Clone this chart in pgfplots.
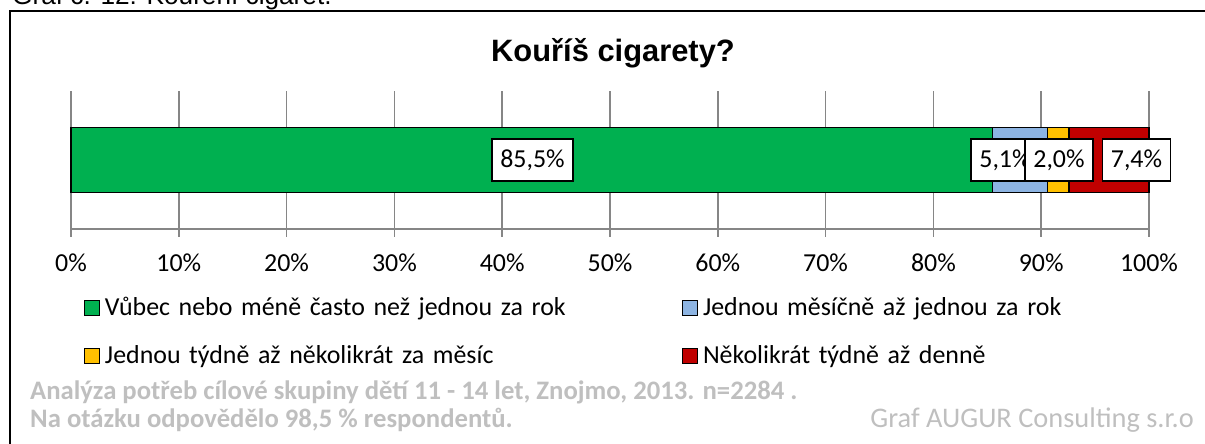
\documentclass[border=0pt]{standalone}
\usepackage{pgfplots}
\pgfplotsset{compat=1.18}
\usepackage{fontspec}
\setmainfont{Carlito}
\newfontfamily\arialfont{Liberation Sans}
\definecolor{cgreen}{HTML}{00B050}
\definecolor{cblue}{HTML}{8DB4E2}
\definecolor{cyellow}{HTML}{FFC000}
\definecolor{cred}{HTML}{C00000}
\definecolor{cgrid}{HTML}{868686}
\definecolor{cfoot}{HTML}{BFBFBF}
\begin{document}
\begin{tikzpicture}[x=1bp,y=1bp]
\useasboundingbox (0,0) rectangle (1205,444);
\node[anchor=base west, inner sep=0pt, font=\arialfont\fontsize{26.3}{30}\selectfont] at (12,439) {Graf č. 12: Kouření cigaret.};
\draw[line width=2.5bp] (10,-10) -- (10,433) -- (1215,433);
\node[anchor=base, inner sep=0pt, font=\arialfont\bfseries\fontsize{31}{36}\selectfont] at (613,382.5) {Kouříš cigarety?};
\begin{axis}[
  at={(71bp,215bp)}, anchor=south west, scale only axis,
  width=1078bp, height=138bp,
  xmin=0, xmax=100, ymin=-1, ymax=1,
  xbar stacked, bar width=65bp,
  clip=false,
  axis x line=bottom, axis y line=none,
  x axis line style={-, draw=cgrid, line width=1.5bp},
  xtick={0,10,...,100},
  xticklabels={0\%,10\%,20\%,30\%,40\%,50\%,60\%,70\%,80\%,90\%,100\%},
  xtick align=outside, major tick length=8bp,
  xtick style={draw=cgrid, line width=1.5bp},
  xmajorgrids, major grid style={draw=cgrid, line width=1.5bp},
  ytick=\empty,
  xticklabel style={font=\fontsize{26}{30}\selectfont, anchor=base, inner sep=0pt, yshift=-35bp},
  legend columns=2,
  legend style={at={(0.01206,-0.4964)}, anchor=north west, draw=none, fill=none,
    inner sep=0pt, outer sep=0pt, row sep=24bp,
    nodes={anchor=base west, inner xsep=5bp, inner ysep=0pt, text height=18bp,
      text depth=6bp, text width=572bp, align=left, font=\fontsize{26}{30}\selectfont}},
  legend image code/.code={\draw[#1, draw=black, line width=1bp] (0bp,0bp) rectangle (15bp,15bp);},
]
\addplot[fill=cgreen, draw=black, line width=1.5bp] coordinates {(85.5,0)};
\addplot[fill=cblue, draw=black, line width=1.5bp] coordinates {(5.1,0)};
\addplot[fill=cyellow, draw=black, line width=1.5bp] coordinates {(2.0,0)};
\addplot[fill=cred, draw=black, line width=1.5bp] coordinates {(7.4,0)};
\legend{Vůbec nebo méně často než jednou za rok, Jednou měsíčně až jednou za rok, Jednou týdně až několikrát za měsíc, Několikrát týdně až denně}
\coordinate (L1) at (axis cs:42.81,0);
\coordinate (L2) at (axis cs:86.64,0);
\coordinate (L3) at (axis cs:91.65,0);
\coordinate (L4) at (axis cs:98.84,0);
\end{axis}
\tikzset{lbl/.style={draw=black, fill=white, line width=1.5bp, inner xsep=8.5bp, inner ysep=0pt, minimum height=42bp, font=\fontsize{26}{30}\selectfont}}
\node[lbl] at (L1) {85,5\%};
\node[lbl] at (L2) {5,1\%};
\node[lbl] at (L3) {2,0\%};
\node[lbl] at (L4) {7,4\%};
\node[anchor=base west, inner sep=0pt, text=cfoot, font=\bfseries\fontsize{26.8}{30}\selectfont] at (30,44) {Analýza potřeb cílové skupiny dětí 11 - 14 let, Znojmo, 2013. n=2284 .};
\node[anchor=base west, inner sep=0pt, text=cfoot, font=\bfseries\fontsize{26.8}{30}\selectfont] at (30,16) {Na otázku odpovědělo 98,5 \% respondentů.};
\node[anchor=base east, inner sep=0pt, text=cfoot, font=\fontsize{28.5}{30}\selectfont] at (1194,16) {Graf AUGUR Consulting s.r.o};
\end{tikzpicture}
\end{document}
